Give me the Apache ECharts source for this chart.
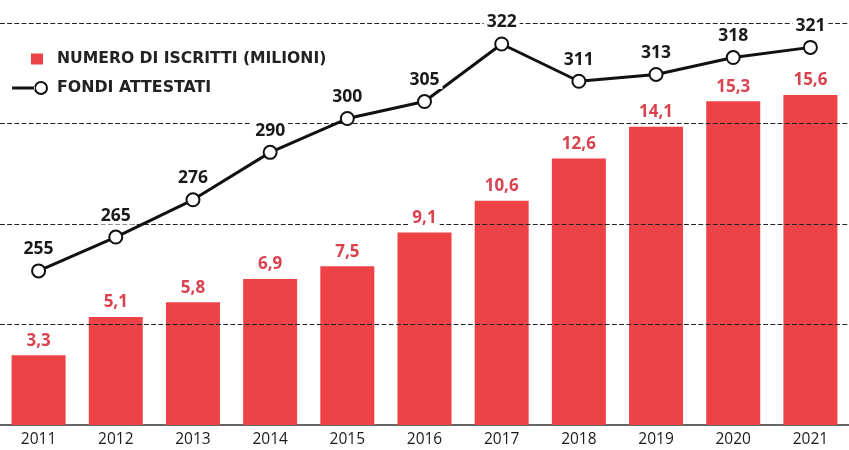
<!DOCTYPE html>
<html>
<head>
<meta charset="utf-8">
<script src="https://cdn.jsdelivr.net/npm/echarts@6/dist/echarts.min.js"></script>
<style>
html,body{margin:0;padding:0;background:#fff;}
#c{width:849px;height:450px;}
</style>
</head>
<body>
<div id="c"></div>
<script>
var years = ['2011','2012','2013','2014','2015','2016','2017','2018','2019','2020','2021'];
var iscritti = [3.3, 5.1, 5.8, 6.9, 7.5, 9.1, 10.6, 12.6, 14.1, 15.3, 15.6];
var fondi = [255, 265, 276, 290, 300, 305, 322, 311, 313, 318, 321];
var gridValues = [4.75, 9.5, 14.25, 19];
var barName = 'NUMERO DI ISCRITTI (MILIONI)';
var lineName = 'FONDI ATTESTATI';

var FONT = '"Open Sans", "DejaVu Sans", sans-serif';
var LEG_FONT = '"DejaVu Sans", sans-serif';
var RED = '#ee4346';
var RED_TXT = '#d9434f';

var lineIcon = 'path://M0,5.6H23V8.4H0Z M36,7A7,7 0 1,0 22,7A7,7 0 1,0 36,7Z M34,7A5,5 0 1,1 24,7A5,5 0 1,1 34,7Z';

var chart = echarts.init(document.getElementById('c'), null, {renderer:'canvas'});
chart.setOption({
  animation: false,
  backgroundColor: '#fff',
  grid: {left: -1, right: -12, top: 23, bottom: 25, containLabel: false},
  legend: [
    {
      data: [{name: barName, icon: 'rect'}],
      left: 31, top: 51, orient: 'vertical', padding: 0,
      itemWidth: 12, itemHeight: 11,
      textStyle: {fontFamily: LEG_FONT, fontWeight: 'bold', fontSize: 15.6, color: '#222', padding: [0,0,0,9]}
    },
    {
      data: [{name: lineName, icon: lineIcon, itemStyle: {color: '#111', borderWidth: 0}}],
      left: 12, top: 80, orient: 'vertical', padding: 0,
      itemWidth: 36, itemHeight: 14,
      textStyle: {fontFamily: LEG_FONT, fontWeight: 'bold', fontSize: 15.8, color: '#222', padding: [0,0,0,4]}
    }
  ],
  xAxis: {
    type: 'category',
    data: years,
    axisLine: {lineStyle: {color: '#333', width: 1.5}},
    axisTick: {show: false},
    axisLabel: {fontFamily: FONT, fontSize: 15.5, color: '#1a1a1a', margin: 7}
  },
  yAxis: [
    {
      type: 'value', min: 0, max: 19, interval: 4.75,
      axisLine: {show: false}, axisTick: {show: false}, axisLabel: {show: false},
      splitLine: {show: false}
    },
    {
      type: 'value', min: 209.5, max: 328.2, show: false,
      splitLine: {show: false}
    }
  ],
  series: [
    {
      name: barName, type: 'bar', data: iscritti, barWidth: 54, barGap: '-100%', z: 2,
      itemStyle: {color: RED}
    },
    {
      name: 'gridlines', type: 'bar', data: iscritti, barWidth: 54, barGap: '-100%',
      zlevel: 1, z: 2, silent: true,
      itemStyle: {color: 'rgba(0,0,0,0)'},
      markLine: {
        silent: true, symbol: ['none', 'none'],
        label: {show: false},
        lineStyle: {color: '#222', width: 1.2, type: 'dashed'},
        data: gridValues.map(function(v){ return {yAxis: v}; })
      }
    },
    {
      name: 'barlabels', type: 'bar', data: iscritti, barWidth: 54, barGap: '-100%',
      zlevel: 2, z: 2, silent: true,
      itemStyle: {color: 'rgba(0,0,0,0)'},
      label: {
        show: true, position: 'top', distance: 6,
        formatter: function(p){ return String(p.value).replace('.', ','); },
        fontFamily: FONT, fontWeight: 'bold', fontSize: 17, color: RED_TXT,
        backgroundColor: '#fff', padding: [0, 3]
      }
    },
    {
      name: lineName, type: 'line', yAxisIndex: 1, data: fondi, zlevel: 2, z: 5,
      lineStyle: {color: '#111', width: 3},
      symbol: 'emptyCircle', symbolSize: 13,
      itemStyle: {color: '#111', borderColor: '#111', borderWidth: 2.5},
      label: {
        show: true, position: 'top', distance: 5,
        fontFamily: FONT, fontWeight: 'bold', fontSize: 17.5, color: '#1a1a1a',
        backgroundColor: '#fff', padding: [0, 3]
      }
    }
  ]
});
</script>
</body>
</html>
